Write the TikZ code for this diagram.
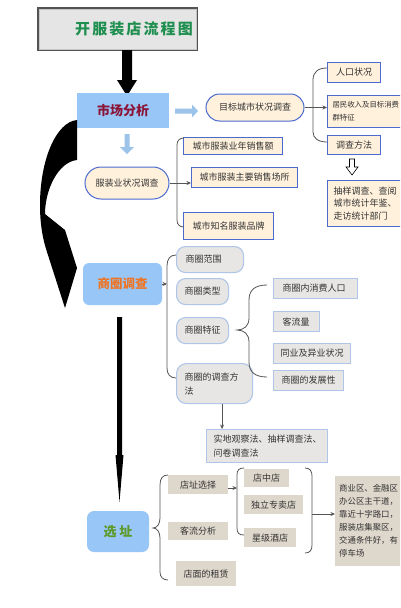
\documentclass[tikz,border=0pt]{standalone}
\usepackage{fontspec}
\setmainfont{Noto Sans CJK SC}
\newfontfamily\titlefont[LetterSpace=14]{Noto Sans CJK SC}
\usetikzlibrary{arrows.meta,calc}
\definecolor{bbord}{HTML}{4A6AD0}
\definecolor{beigeF}{HTML}{FFF1DC}
\definecolor{lblue}{HTML}{98C6F6}
\definecolor{arrblue}{HTML}{9CC3EA}
\definecolor{grayF}{HTML}{E7E6E4}
\definecolor{grayB}{HTML}{AFC6E8}
\definecolor{tanF}{HTML}{DED7CC}
\definecolor{txt}{HTML}{333333}
\definecolor{brk}{HTML}{555555}
\definecolor{titlegreen}{HTML}{1F8F50}
\definecolor{mktred}{HTML}{8B1538}
\definecolor{sqorange}{HTML}{EE7424}
\definecolor{xzgreen}{HTML}{5E9A28}
\begin{document}
\begin{tikzpicture}[x=1pt,y=-1pt,
  every node/.style={font=\fontsize{9}{13}\selectfont, text=txt, inner sep=0pt},
  beigebox/.style={draw=bbord, fill=beigeF, line width=1pt},
  graybox/.style={draw=grayB, fill=grayF, line width=1.1pt},
  tanbox/.style={fill=tanF},
  wh/.style 2 args={minimum width=#1, minimum height=#2},
  brack/.style={draw=brk, line width=0.8pt},
  arr/.style={draw=brk, line width=0.8pt, -{Stealth[length=4.5pt,width=4pt]}}
]
\useasboundingbox (0,0) rectangle (400,608);
\clip (0,0) rectangle (400,608);
\fill[white] (0,0) rectangle (400,608);

% title
\node[draw=gray!65!black, line width=2pt, fill=gray!20, wh={159pt}{42pt}] (title) at (117.5,29) {};
\draw[gray!45, line width=0.6pt] ($(title.south west)+(2,-2)$) rectangle ($(title.north east)+(-2,2)$);
\node[font=\titlefont\bfseries\fontsize{15}{15}\selectfont, text=titlegreen] (titletxt) at (134,29) {开服装店流程图};

% top black arrow
\fill[black] (122,50) -- (132,50) -- (132,80) -- (137,80) -- (127,96) -- (117,80) -- (122,80) -- cycle;

% market
\node[fill=lblue, wh={92pt}{35pt}, font=\bfseries\fontsize{13}{13}\selectfont, text=mktred] (mkt) at (123,110.5) {市场分析};

% blue block arrows
\fill[arrblue] (175,108.5) -- (192,108.5) -- (192,104.5) -- (198,111) -- (192,117.5) -- (192,113.5) -- (175,113.5) -- cycle;
\fill[arrblue] (124.5,134) -- (129.5,134) -- (129.5,147) -- (134,147) -- (127,154) -- (120,147) -- (124.5,147) -- cycle;

% target city
\node[beigebox, rounded corners=13.5pt, wh={98pt}{27pt}] (target) at (255,107.5) {目标城市状况调查};
\node[beigebox, anchor=north west, wh={53pt}{20pt}] (p1) at (327,62) {人口状况};
\node[beigebox, anchor=north west, minimum height=32pt, text width=85pt, inner xsep=5pt, align=left, font=\fontsize{7.4}{13}\selectfont] (p2) at (327,95) {居民收入及目标消费\\群特征};
\node[beigebox, anchor=north west, wh={53pt}{19pt}] (p3) at (327,135) {调查方法};
\node[beigebox, anchor=north west, minimum height=46pt, text width=72pt, inner xsep=6pt, align=left, font=\fontsize{9}{12.5}\selectfont] (p4) at (327,180) {抽样调查、查阅\\城市统计年鉴、\\走访统计部门};
\draw[brack] (327,68) .. controls (318,68) and (313,72) .. (313,80) -- (313,132) .. controls (313,138) and (318,142) .. (327,142);
\draw[arr] (target.east) -- (target.east -| p2.west);
% hollow arrow
\draw[line width=0.6pt, fill=white] (349.5,159) -- (354.5,159) -- (354.5,167) -- (358,167) -- (352,175) -- (346,167) -- (349.5,167) -- cycle;

% garment industry
\node[beigebox, rounded corners=16pt, wh={84pt}{32pt}] (fz) at (127,183) {服装业状况调查};
\node[beigebox, anchor=north west, wh={99pt}{17pt}] (c1) at (183,137) {城市服装业年销售额};
\node[beigebox, anchor=north west, wh={106pt}{20pt}] (c2) at (191,167) {城市服装主要销售场所};
\node[beigebox, anchor=north west, wh={90pt}{27pt}] (c3) at (183,212) {城市知名服装品牌};
\draw[brack] (184,138) .. controls (180,138) and (177,140) .. (177,145) -- (177,220) .. controls (177,225) and (180,227) .. (184,227);
\draw[arr] (fz.east) -- (fz.east -| c2.west);

% big curved black arrow
\fill[black] (77,120) .. controls (56,122) and (40,160) .. (40,205) .. controls (40,225) and (43,240) .. (47,252) -- (65,308) -- (77,268) -- (65,230) -- (45,214) .. controls (45,190) and (58,162) .. (77,160) -- cycle;

% trade area
\node[fill=lblue, rounded corners=6pt, wh={79pt}{42pt}, font=\bfseries\fontsize{12.5}{12.5}\selectfont, text=sqorange] (sq) at (122.5,284) {商圈调查};
\node[graybox, rounded corners=9pt, anchor=north west, minimum height=26pt, text width=49pt, inner xsep=9pt, align=left] (s1) at (176,246) {商圈范围};
\node[graybox, rounded corners=9pt, anchor=north west, wh={52pt}{26pt}] (s2) at (176,278) {商圈类型};
\node[graybox, rounded corners=9pt, anchor=north west, wh={52pt}{26pt}] (s3) at (176,317) {商圈特征};
\node[graybox, rounded corners=10pt, anchor=north west, minimum height=40pt, text width=60pt, inner xsep=8pt, align=left, font=\fontsize{9}{14}\selectfont] (s4) at (176,363) {商圈的调查方\\法};
\draw[brack] (176,255) .. controls (170,255) and (167,259) .. (167,266) -- (167,368) .. controls (167,374) and (170,378) .. (176,378);
\coordinate (sqb) at (167,284);
\draw[arr] (sq.east) -- (sqb);

\node[graybox, anchor=north west, minimum height=20pt, text width=66pt, inner xsep=9pt, align=left] (t1) at (273,278) {商圈内消费人口};
\node[graybox, anchor=north west, minimum height=20pt, text width=28pt, inner xsep=9pt, align=left] (t2) at (273,311) {客流量};
\node[graybox, anchor=north west, minimum height=20pt, text width=63pt, inner xsep=7pt, align=left] (t3) at (273,343) {同业及异业状况};
\node[graybox, anchor=north west, minimum height=20pt, text width=54pt, inner xsep=8pt, align=left] (t4) at (273,370) {商圈的发展性};
\draw[brack] (267,285) .. controls (255,285) and (249,290) .. (249,300) -- (249,318) .. controls (249,326) and (244,330) .. (237,330) .. controls (244,330) and (249,334) .. (249,342) -- (249,362) .. controls (249,372) and (255,377) .. (267,377);

\node[graybox, anchor=north west, minimum height=33pt, text width=107pt, inner xsep=7pt, align=left, font=\fontsize{9}{14}\selectfont] (m) at (206,429) {实地观察法、抽样调查法、\\问卷调查法};
\path (s4.south) ++(7.5,0) coordinate (s4a);
\draw[arr] (s4a) -- (s4a |- m.north);

% lower black arrow
\fill[black] (117,317) -- (122,317) -- (122,455) -- (123.5,455) -- (119.5,502) -- (115.5,455) -- (117,455) -- cycle;

% site selection
\node[fill=lblue, rounded corners=7pt, wh={62pt}{41pt}, font=\bfseries\fontsize{13}{13}\selectfont, text=xzgreen] (xz) at (118,531.5) {选\hspace{3pt}址};
\node[tanbox, anchor=north west, wh={60pt}{19pt}] (d1) at (168,475) {店址选择};
\node[tanbox, anchor=north west, wh={60pt}{18pt}] (d2) at (168,522) {客流分析};
\node[tanbox, anchor=north west, wh={60pt}{25pt}] (d3) at (176,561) {店面的租赁};
\draw[brack] (168,475) .. controls (163,475) and (160,478) .. (160,485) -- (160,518) .. controls (160,524) and (157,528) .. (153,528) .. controls (157,528) and (160,532) .. (160,538) -- (160,572) .. controls (160,577) and (163,580) .. (168,580);

\node[tanbox, anchor=north west, wh={45pt}{18pt}] (e1) at (244,469) {店中店};
\node[tanbox, anchor=north west, wh={59pt}{19pt}] (e2) at (244,495) {独立专卖店};
\node[tanbox, anchor=north west, wh={52pt}{19pt}] (e3) at (244,528) {星级酒店};
\draw[brack] (244,468) .. controls (239,468) and (237,470) .. (237,475) -- (237,528) .. controls (237,533) and (239,535) .. (244,535);
\coordinate (ebr) at (237,488);
\draw[arr] (d1.east |- ebr) -- (ebr);

\draw[brack] (305,468) .. controls (310,468) and (312,471) .. (312,476) -- (312,545) .. controls (312,550) and (310,553) .. (305,553);
\node[tanbox, anchor=north west, minimum height=90pt, text width=70pt, inner xsep=4pt, align=left, font=\fontsize{8.4}{13}\selectfont] (f) at (335,476) {商业区、金融区\\办公区主干道，\\靠近十字路口，\\服装店集聚区，\\交通条件好，有\\停车场};
\coordinate (rbr) at (312,514);
\draw[arr] (rbr) -- (rbr -| f.west);
\end{tikzpicture}
\end{document}
